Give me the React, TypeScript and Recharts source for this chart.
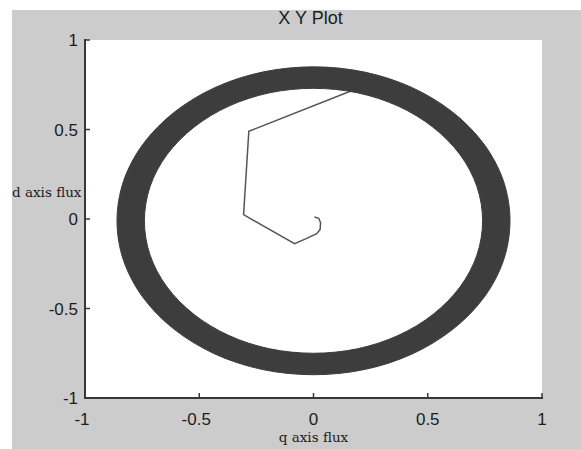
import { ScatterChart, Scatter, XAxis, YAxis, CartesianGrid } from 'recharts'

const TICKS = [-1, -0.5, 0, 0.5, 1]

// start-up path of the flux vector (q, d) before it reaches the steady orbit
const startQ = [0.004, 0.023, 0.031, 0.029, 0.014, -0.032, -0.083, -0.306, -0.283, 0.172]
const startD = [0.011, 0.004, -0.021, -0.058, -0.082, -0.11, -0.138, 0.024, 0.49, 0.719]

// steady orbit band: outer and inner edge, every 15 degrees
const ringOuterQ = [0.86, 0.831, 0.745, 0.608, 0.43, 0.223, 0, -0.223, -0.43, -0.608, -0.745, -0.831,
    -0.86, -0.831, -0.745, -0.608, -0.43, -0.223, 0, 0.223, 0.43, 0.608, 0.745, 0.831]
const ringOuterD = [-0.01, 0.213, 0.42, 0.598, 0.735, 0.821, 0.85, 0.821, 0.735, 0.598, 0.42, 0.213,
    -0.01, -0.233, -0.44, -0.618, -0.755, -0.841, -0.87, -0.841, -0.755, -0.618, -0.44, -0.233]
const ringInnerQ = [0.74, 0.715, 0.641, 0.523, 0.37, 0.192, 0, -0.192, -0.37, -0.523, -0.641, -0.715,
    -0.74, -0.715, -0.641, -0.523, -0.37, -0.192, 0, 0.192, 0.37, 0.523, 0.641, 0.715]
const ringInnerD = [-0.01, 0.182, 0.36, 0.513, 0.631, 0.705, 0.73, 0.705, 0.631, 0.513, 0.36, 0.182,
    -0.01, -0.202, -0.38, -0.533, -0.651, -0.725, -0.75, -0.725, -0.651, -0.533, -0.38, -0.202]

const FRAME = '#383838'
const RING = '#3d3d3d'
const TRACE = '#555555'
const TEXT = '#1c1c1c'
const SANS = '"Liberation Sans", Arial, sans-serif'
const SERIF = '"DejaVu Serif", "Liberation Serif", serif'

const startData = startQ.map((q, i) => ({ q, d: startD[i] }))
const ringData = [
    ...ringOuterQ.map((q, i) => ({ q, d: ringOuterD[i] })),
    ...ringInnerQ.map((q, i) => ({ q, d: ringInnerD[i] })),
]

const NoDot = () => <g />

// closed catmull-rom loop through the scaled points
const smoothLoop = (arr: any[]) => {
    const n = arr.length
    let d = `M${arr[0].x},${arr[0].y}`
    for (let i = 0; i < n; i++) {
        const p0 = arr[(i - 1 + n) % n]
        const p1 = arr[i]
        const p2 = arr[(i + 1) % n]
        const p3 = arr[(i + 2) % n]
        const c1x = p1.x + (p2.x - p0.x) / 6
        const c1y = p1.y + (p2.y - p0.y) / 6
        const c2x = p2.x - (p3.x - p1.x) / 6
        const c2y = p2.y - (p3.y - p1.y) / 6
        d += `C${c1x},${c1y} ${c2x},${c2y} ${p2.x},${p2.y}`
    }
    return d + 'Z'
}

// fill the band between the two loops
const ringLine = (p: any) => {
    const pts = p.points || []
    const n = ringOuterQ.length
    if (pts.length < 2 * n) return <g />
    const d = smoothLoop(pts.slice(0, n)) + smoothLoop(pts.slice(n))
    return <path d={d} fill={RING} fillRule="evenodd" stroke={RING} strokeWidth={1} />
}

const label = (v: number) => String(v)

function BottomTick({ x, y, payload }: any) {
    return (
        <g>
            <line x1={x} y1={y} x2={x} y2={y - 5} stroke={FRAME} strokeWidth={1.5} />
            <text x={x} y={y + 27} dx={payload.value < 0 ? -3 : 0} textAnchor="middle"
                fontFamily={SANS} fontSize={17} fill={TEXT}>
                {label(payload.value)}
            </text>
        </g>
    )
}

function LeftTick({ x, y, payload }: any) {
    return (
        <g>
            <line x1={x} y1={y} x2={x + 5} y2={y} stroke={FRAME} strokeWidth={1.5} />
            <text x={x - 7} y={y} dy="0.36em" textAnchor="end"
                fontFamily={SANS} fontSize={17} fill={TEXT}>
                {label(payload.value)}
            </text>
        </g>
    )
}

function TopTick({ x, y }: any) {
    return <line x1={x} y1={y} x2={x} y2={y + 5} stroke={FRAME} strokeWidth={1.5} />
}

function RightTick({ x, y }: any) {
    return <line x1={x} y1={y} x2={x - 5} y2={y} stroke={FRAME} strokeWidth={1.5} />
}

const frameLine = { stroke: FRAME, strokeWidth: 2, strokeLinecap: 'square' as const }

// x label under the axis, plot title above the frame
const bottomLabel = (props: any) => {
    const vb = props.viewBox || { x: 85, y: 398, width: 457 }
    const cx = vb.x + vb.width / 2
    return (
        <g>
            <text x={cx} y={vb.y + 44} textAnchor="middle" fontFamily={SERIF} fontSize={13.5} fill={TEXT}>
                q axis flux
            </text>
            <text x={cx - 3} y={24} textAnchor="middle" fontFamily={SANS} fontSize={18} fill={TEXT}>
                X Y Plot
            </text>
        </g>
    )
}

const leftLabel = (props: any) => {
    const vb = props.viewBox || { y: 40 }
    return (
        <text x={12} y={vb.y + 157} textAnchor="start" fontFamily={SERIF} fontSize={13.5} fill={TEXT}>
            d axis flux
        </text>
    )
}

export default function App() {
    return (
        <div style={{ position: 'absolute', left: 0, top: 0, width: 581, height: 449, background: '#fff' }}>
            <div style={{ position: 'absolute', left: 12, top: 10, right: 0, bottom: 0, background: '#cccccc' }} />
            <div style={{ position: 'absolute', left: 0, top: 0 }}>
                <ScatterChart width={581} height={449} margin={{ top: 40, right: 39, bottom: 0, left: 0 }}>
                    <CartesianGrid fill="#ffffff" stroke="none" horizontal={false} vertical={false} />
                    <XAxis
                        type="number"
                        dataKey="q"
                        domain={[-1, 1]}
                        ticks={TICKS}
                        interval={0}
                        allowDataOverflow
                        height={51}
                        axisLine={frameLine}
                        tickLine={false}
                        tickSize={0}
                        tickMargin={0}
                        tick={<BottomTick />}
                        label={bottomLabel}
                    />
                    <XAxis
                        xAxisId="top"
                        orientation="top"
                        type="number"
                        dataKey="q"
                        domain={[-1, 1]}
                        ticks={TICKS}
                        interval={0}
                        allowDataOverflow
                        height={0}
                        axisLine={frameLine}
                        tickLine={false}
                        tickSize={0}
                        tickMargin={0}
                        tick={<TopTick />}
                    />
                    <YAxis
                        type="number"
                        dataKey="d"
                        domain={[-1, 1]}
                        ticks={TICKS}
                        interval={0}
                        allowDataOverflow
                        width={85}
                        axisLine={frameLine}
                        tickLine={false}
                        tickSize={0}
                        tickMargin={0}
                        tick={<LeftTick />}
                        label={leftLabel}
                    />
                    <YAxis
                        yAxisId="right"
                        orientation="right"
                        type="number"
                        dataKey="d"
                        domain={[-1, 1]}
                        ticks={TICKS}
                        interval={0}
                        allowDataOverflow
                        width={0}
                        axisLine={frameLine}
                        tickLine={false}
                        tickSize={0}
                        tickMargin={0}
                        tick={<RightTick />}
                    />
                    <Scatter
                        data={startData}
                        shape={NoDot}
                        line={{ stroke: TRACE, strokeWidth: 1.5 }}
                        lineType="joint"
                        lineJointType="linear"
                        isAnimationActive={false}
                    />
                    <Scatter
                        data={ringData}
                        xAxisId="top"
                        yAxisId="right"
                        shape={NoDot}
                        line={ringLine}
                        lineType="joint"
                        isAnimationActive={false}
                    />
                </ScatterChart>
            </div>
        </div>
    )
}
